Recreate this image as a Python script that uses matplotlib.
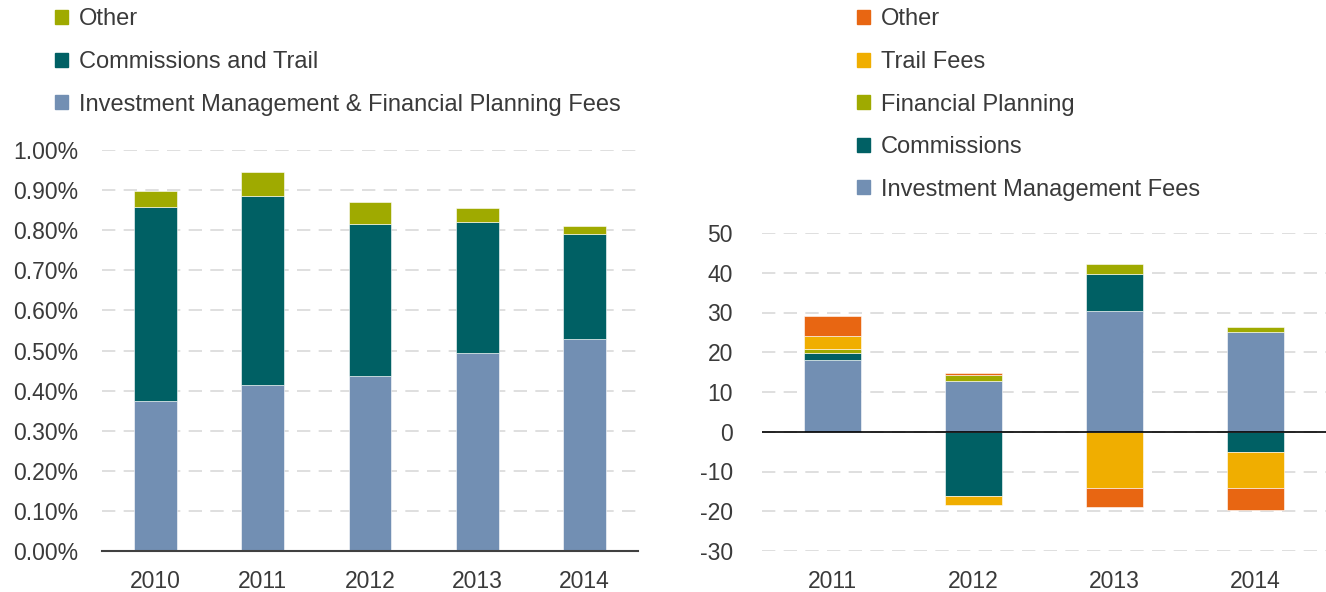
import matplotlib
matplotlib.use("Agg")
import matplotlib.pyplot as plt
from matplotlib.patches import Patch
from matplotlib.ticker import FuncFormatter
import numpy as np

# ---- data ----
years_left = ["2010", "2011", "2012", "2013", "2014"]
im_fp_fees = [0.373, 0.414, 0.437, 0.495, 0.529]
comm_trail = [0.484, 0.472, 0.379, 0.325, 0.261]
other_left = [0.042, 0.058, 0.054, 0.035, 0.020]

years_right = ["2011", "2012", "2013", "2014"]
im_fees = [18.1, 12.7, 30.3, 25.2]
commissions = [1.7, -16.2, 9.5, -5.0]
fin_planning = [0.9, 1.6, 2.3, 1.2]
trail_fees = [3.5, -2.2, -14.2, -9.2]
other_right = [4.8, 0.5, -4.8, -5.4]

C_BLUE = "#728FB3"
C_TEAL = "#006064"
C_OLIVE = "#9FAA00"
C_ORANGE = "#E86612"
C_YELLOW = "#F0AE00"
TXT = "#3A3A3A"
GRID = "#D9D9D9"

plt.rcParams["font.family"] = ["Liberation Sans", "DejaVu Sans"]
plt.rcParams["axes.unicode_minus"] = False
FS = 16.5
LFS = 17

fig = plt.figure(figsize=(13.26, 5.92), dpi=100)
W, H = 1326, 592

def axes_px(x0, x1, ytop, ybot):
    return fig.add_axes([x0 / W, (H - ybot) / H, (x1 - x0) / W, (ybot - ytop) / H])

def style(ax):
    for s in ax.spines.values():
        s.set_visible(False)
    ax.tick_params(axis="both", length=0, labelsize=FS, colors=TXT)
    ax.yaxis.grid(True, color=GRID, linestyle=(0, (8, 5)), linewidth=1.2)
    ax.set_axisbelow(True)

# ---- left chart ----
ax1 = axes_px(102, 638, 150, 551)
x = np.arange(len(years_left))
bw = 0.4
b0 = np.zeros(len(x))
ax1.bar(x, im_fp_fees, bw, bottom=b0, color=C_BLUE, edgecolor="white", linewidth=0.4)
b1 = b0 + np.array(im_fp_fees)
ax1.bar(x, comm_trail, bw, bottom=b1, color=C_TEAL, edgecolor="white", linewidth=0.4)
b2 = b1 + np.array(comm_trail)
ax1.bar(x, other_left, bw, bottom=b2, color=C_OLIVE, edgecolor="white", linewidth=0.4)
ax1.set_xlim(-0.5, 4.5)
ax1.set_ylim(0, 1.0)
ax1.set_yticks(np.arange(0, 1.01, 0.1))
ax1.yaxis.set_major_formatter(FuncFormatter(lambda v, p: f"{v:.2f}%"))
ax1.set_xticks(x)
ax1.set_xticklabels(years_left)
style(ax1)
ax1.axhline(0, color="#404040", linewidth=1.5, clip_on=False)
ax1.tick_params(axis="x", pad=14)
ax1.tick_params(axis="y", pad=17)

h1 = [Patch(color=C_OLIVE, label="Other"),
      Patch(color=C_TEAL, label="Commissions and Trail"),
      Patch(color=C_BLUE, label="Investment Management & Financial Planning Fees")]
fig.legend(handles=h1, loc="upper left", bbox_to_anchor=(46 / W, 1 + 1 / H),
           frameon=False, fontsize=LFS, handlelength=0.55, handleheight=0.55,
           handletextpad=0.45, labelspacing=0.87, labelcolor=TXT, borderaxespad=0)

# ---- right chart ----
ax2 = axes_px(762, 1326, 233, 551)
xr = np.arange(len(years_right))
series = [(im_fees, C_BLUE), (commissions, C_TEAL), (fin_planning, C_OLIVE),
          (trail_fees, C_YELLOW), (other_right, C_ORANGE)]
pos = np.zeros(len(xr))
neg = np.zeros(len(xr))
for vals, col in series:
    v = np.array(vals, dtype=float)
    bottoms = np.where(v >= 0, pos, neg)
    ax2.bar(xr, v, bw, bottom=bottoms, color=col, edgecolor="white", linewidth=0.4)
    pos = pos + np.where(v >= 0, v, 0)
    neg = neg + np.where(v < 0, v, 0)
ax2.set_xlim(-0.5, 3.5)
ax2.set_ylim(-30, 50)
ax2.set_yticks(np.arange(-30, 51, 10))
ax2.set_xticks(xr)
ax2.set_xticklabels(years_right)
style(ax2)
ax2.axhline(0, color="black", linewidth=1.2)
ax2.tick_params(axis="x", pad=14)
ax2.tick_params(axis="y", pad=21)

h2 = [Patch(color=C_ORANGE, label="Other"),
      Patch(color=C_YELLOW, label="Trail Fees"),
      Patch(color=C_OLIVE, label="Financial Planning"),
      Patch(color=C_TEAL, label="Commissions"),
      Patch(color=C_BLUE, label="Investment Management Fees")]
fig.legend(handles=h2, loc="upper left", bbox_to_anchor=(848 / W, 1 + 1 / H),
           frameon=False, fontsize=LFS, handlelength=0.55, handleheight=0.55,
           handletextpad=0.45, labelspacing=0.87, labelcolor=TXT, borderaxespad=0)

fig.savefig("out.png", dpi=100)
